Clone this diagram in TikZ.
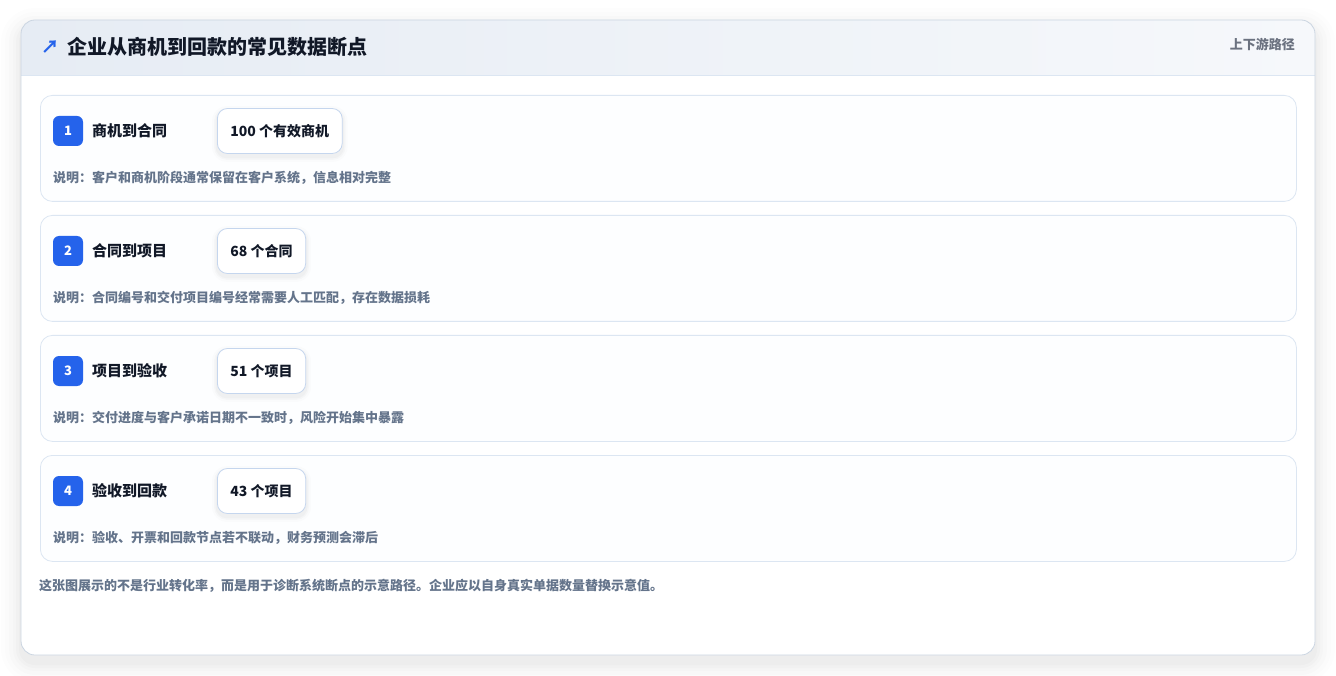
\documentclass[tikz,border=0pt]{standalone}
\usepackage{fontspec}
\setmainfont{Noto Sans CJK SC}
\definecolor{ink}{HTML}{111827}
\definecolor{muted}{HTML}{64748B}
\definecolor{subtle}{HTML}{6B7280}
\definecolor{brand}{HTML}{2563EB}
\definecolor{cardline}{HTML}{DCE6F2}
\definecolor{countline}{HTML}{C5D6EE}
\definecolor{headL}{HTML}{E6ECF4}
\definecolor{headR}{HTML}{F6F8FB}
\definecolor{outline}{HTML}{CBD5E1}
\definecolor{cardfill}{HTML}{FDFEFF}
\tikzset{
  stepcard/.style={draw=cardline, line width=0.8pt, fill=cardfill, rounded corners=12pt, anchor=north west, minimum width=1256pt, minimum height=106pt, inner sep=0pt},
  badge/.style={fill=brand, rounded corners=6pt, minimum width=30pt, minimum height=30pt, inner sep=0pt, text=white, font=\fontsize{13}{15}\selectfont\bfseries},
  steplabel/.style={anchor=west, text=ink, inner sep=0pt, font=\fontsize{15}{18}\selectfont\bfseries},
  countbox/.style={draw=countline, line width=0.8pt, fill=white, rounded corners=10pt, anchor=west, minimum height=45pt, inner xsep=13pt, text=ink, font=\fontsize{14}{17}\selectfont\bfseries},
  desc/.style={anchor=west, text=muted, inner sep=0pt, font=\fontsize{13}{16}\selectfont\bfseries},
}
\begin{document}
\begin{tikzpicture}[x=1pt,y=-1pt]
\useasboundingbox (0,0) rectangle (1336,676);
\fill[white] (0,0) rectangle (1336,676);
% outer shadow
\foreach \i/\o in {20/0.006,16/0.008,12/0.01,8/0.012,5/0.014,2/0.016} {
  \fill[black, opacity=\o, rounded corners=14pt+\i pt] (21-\i,20-\i+8) rectangle (1315+\i,655+\i+8);
}
% outer card
\node[fill=white, rounded corners=14pt, anchor=north west, minimum width=1294pt, minimum height=635pt, inner sep=0pt] (outer) at (21,20) {};
\begin{scope}
  \clip[rounded corners=14pt] (21,20) rectangle (1315,655);
  \shade[left color=headL, right color=headR] (21,20) rectangle (1315,75);
  \draw[cardline, line width=0.8pt] (21,75) -- (1315,75);
\end{scope}
\draw[outline, line width=0.8pt, rounded corners=14pt] (21,20) rectangle (1315,655);
% title
\node[anchor=west, text=brand, inner sep=0pt, font=\fontsize{18}{20}\selectfont\bfseries] (arrow) at (41,47) {↗};
\node[anchor=west, text=ink, inner sep=0pt, font=\fontsize{20}{24}\selectfont\bfseries] (title) at (67,47) {企业从商机到回款的常见数据断点};
\node[anchor=east, text=subtle, inner sep=0pt, font=\fontsize{13}{16}\selectfont\bfseries] (tag) at (1295,44) {上下游路径};
% steps
\foreach \n/\y/\lab/\cnt/\d in {
  1/95/商机到合同/100 个有效商机/说明：客户和商机阶段通常保留在客户系统，信息相对完整,
  2/215/合同到项目/68 个合同/说明：合同编号和交付项目编号经常需要人工匹配，存在数据损耗,
  3/335/项目到验收/51 个项目/说明：交付进度与客户承诺日期不一致时，风险开始集中暴露,
  4/455/验收到回款/43 个项目/说明：验收、开票和回款节点若不联动，财务预测会滞后} {
  \node[stepcard] (card\n) at (40,\y) {};
  \node[badge] (badge\n) at (68,\y+36) {\n};
  \node[steplabel] (label\n) at (92,\y+36) {\lab};
  \node[countbox, opacity=0] (ghost\n) at (217,\y+36) {\cnt};
  \foreach \s/\o in {5/0.012,3/0.018,1.5/0.025} {
    \fill[black, opacity=\o, rounded corners=10pt+\s pt] ([xshift=-\s pt, yshift=-\s pt-3pt]ghost\n.south west) rectangle ([xshift=\s pt, yshift=\s pt-3pt]ghost\n.north east);
  }
  \node[countbox] (count\n) at (217,\y+36) {\cnt};
  \node[desc] (desc\n) at (53,\y+83) {\d};
}
% footer
\node[anchor=west, text=muted, inner sep=0pt, font=\fontsize{13}{16}\selectfont\bfseries] (foot) at (39,586) {这张图展示的不是行业转化率，而是用于诊断系统断点的示意路径。企业应以自身真实单据数量替换示意值。};
\end{tikzpicture}
\end{document}
